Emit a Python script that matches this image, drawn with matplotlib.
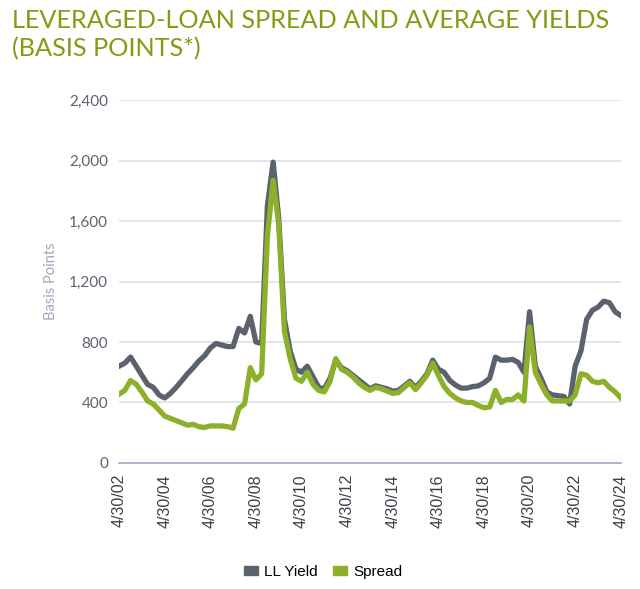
from matplotlib import pyplot as plt
from matplotlib.patches import Patch
import numpy as np
import pandas as pd

# Leveraged-loan spread and average yields, quarterly readings (bp)

dates = pd.date_range("2002-04-30", "2024-04-30", freq="3ME")

ll_yield = [640, 660, 700, 640, 580, 520, 500, 450, 430, 460, 500, 545,
            590, 630, 675, 710, 760, 790, 780, 770, 770, 890, 860, 970,
            800, 790, 1700, 1990, 1620, 950, 740, 620, 600, 640, 570, 500,
            490, 560, 680, 630, 610, 580, 550, 520, 490, 510, 500, 490,
            475, 480, 510, 540, 500, 540, 590, 680, 620, 600, 545, 515,
            495, 495, 505, 510, 530, 560, 700, 680, 680, 685, 665, 600,
            1000, 640, 560, 470, 450, 445, 440, 390, 640, 740, 950, 1010,
            1030, 1070, 1060, 1000, 975]

spread = [455, 480, 545, 520, 470, 410, 390, 350, 310, 295, 280, 265,
          250, 255, 240, 235, 245, 245, 245, 240, 230, 360, 390, 630,
          550, 590, 1500, 1870, 1580, 870, 690, 560, 540, 600, 520, 480,
          470, 540, 690, 620, 600, 570, 530, 500, 480, 500, 490, 475,
          460, 465, 500, 530, 485, 530, 580, 660, 580, 505, 460, 430,
          410, 400, 400, 380, 365, 370, 480, 400, 420, 420, 450, 410,
          900, 600, 520, 450, 410, 410, 410, 410, 450, 590, 580, 540,
          530, 540, 500, 470, 430]

tick_years = list(range(2002, 2025, 2))
tick_labels = ["4/30/%02d" % (y % 100) for y in tick_years]

grey = '#59626d'
green = '#8db02b'

fig = plt.figure(figsize=(6.4, 5.89), dpi=100)
ax = fig.add_axes([0.186, 0.214, 0.784, 0.616])

ax.plot(dates, ll_yield, color=grey, linewidth=3.8, solid_joinstyle='round')
ax.plot(dates, spread, color=green, linewidth=3.8, solid_joinstyle='round')

ax.set_ylim(0, 2400)
ax.set_yticks(range(0, 2401, 400))
ax.set_yticklabels(["{:,}".format(v) for v in range(0, 2401, 400)],
                   family='Lato', fontsize=11, color='#5d6170')
ax.set_xlim(pd.Timestamp("2002-04-30"), pd.Timestamp("2024-04-30"))
ax.set_xticks([pd.Timestamp("%d-04-30" % y) for y in tick_years])
ax.set_xticklabels(tick_labels, rotation=90, fontsize=11.5,
                   family='Liberation Sans', color='#3c3f48')
ax.tick_params(length=0, pad=8)

ax.grid(axis='y', color='#e4e4ec', linewidth=1.4)
ax.set_axisbelow(True)
for side in ['top', 'right', 'left']:
    ax.spines[side].set_visible(False)
ax.spines['bottom'].set_color('#a4a8c4')
ax.spines['bottom'].set_linewidth(1.2)

ax.set_ylabel('Basis Points', family='Lato', fontsize=10.5, color='#a2a6bf',
              labelpad=8)

fig.text(0.019, 0.984, 'LEVERAGED-LOAN SPREAD AND AVERAGE YIELDS\n(BASIS POINTS*)',
         family='Lato', fontsize=18.2, color='#7f9e14', va='top', ha='left',
         linespacing=1.25)

handles = [Patch(color=grey, label='LL Yield'), Patch(color=green, label='Spread')]
fig.legend(handles=handles, loc='center', bbox_to_anchor=(0.505, 0.029), ncol=2,
           frameon=False, handlelength=0.9, handleheight=0.45, handletextpad=0.4,
           columnspacing=1.0, prop={'family': 'Liberation Sans', 'size': 11})

plt.savefig('out.png', dpi=100)
